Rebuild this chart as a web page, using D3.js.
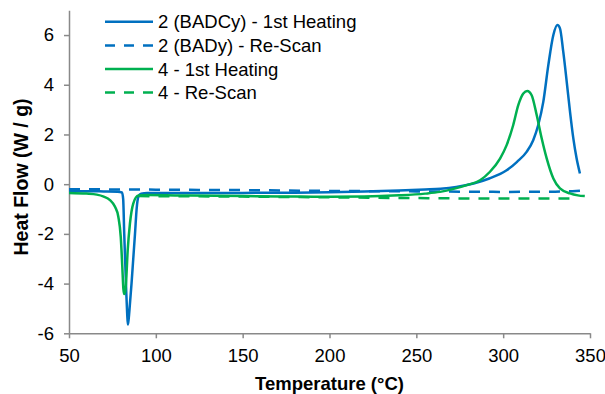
<!DOCTYPE html>
<html>
	<head>
		<meta charset="utf-8">
		<title>Heat Flow DSC</title>
		<script src="https://d3js.org/d3.v7.min.js"></script>
		<style>
			body { margin: 0; background: #fff; }
			text { font-family: "Liberation Sans", Arial, sans-serif; }
		</style>
	</head>
	<body>
		<div id="chart"></div>
		<script>
		// values: [temperature, heat flow]
		var blueHeating = [[50,-0.28],[60,-0.28],[70,-0.29],[78,-0.30],[80.5,-0.33],[81.2,-0.6],[81.8,-2.0],[82.4,-3.2],[83,-4.4],[83.5,-5.2],[83.9,-5.65],[84.4,-5.4],[85,-4.9],[86,-4.0],[87,-3.0],[88,-2.0],[89,-0.95],[90,-0.5],[91.5,-0.38],[95,-0.36],[120,-0.36],[150,-0.35],[180,-0.34],[200,-0.32],[220,-0.29],[240,-0.25],[255,-0.21],[264,-0.18],[273,-0.11],[283,0.03],[292,0.23],[302,0.56],[308,0.9],[313.5,1.3],[317.3,1.77],[320.2,2.38],[323.1,3.31],[326,4.79],[328.9,6.0],[331.2,6.4],[332.7,6.27],[334.6,5.33],[336.6,4.12],[338.5,2.91],[340.4,1.84],[342.3,1.03],[344.2,0.43]];
		var blueRescan = [[50,-0.2],[100,-0.22],[150,-0.24],[200,-0.27],[250,-0.29],[300,-0.31],[330,-0.3],[340,-0.28],[347,-0.25]];
		var greenHeating = [[50,-0.35],[60,-0.38],[66,-0.42],[70,-0.5],[73.6,-0.64],[76.5,-0.91],[78.4,-1.31],[79.8,-2.12],[80.7,-3.33],[81.3,-4.2],[81.8,-4.42],[82.4,-4.3],[82.8,-4.0],[83.8,-2.66],[85.1,-1.58],[87,-0.78],[89.9,-0.46],[95,-0.44],[120,-0.46],[150,-0.48],[180,-0.5],[200,-0.51],[220,-0.5],[240,-0.45],[255,-0.38],[263.6,-0.31],[272,-0.18],[279,-0.04],[286.7,0.16],[292.4,0.5],[298.2,1.03],[302,1.57],[305.8,2.38],[308.7,3.18],[311.6,3.65],[313.9,3.75],[316.4,3.58],[319.3,2.78],[322.2,1.84],[325.1,1.03],[328.9,0.23],[332.7,-0.17],[338.5,-0.37],[343,-0.45],[347,-0.48]];
		var greenRescan = [[90,-0.48],[150,-0.5],[200,-0.53],[250,-0.56],[300,-0.58],[341,-0.58]];

		var seriesNames = ["2 (BADCy) - 1st Heating", "2 (BADy) - Re-Scan", "4 - 1st Heating", "4 - Re-Scan"];
		var seriesData = [blueHeating, blueRescan, greenHeating, greenRescan];
		var seriesColors = ["#0070C0", "#0070C0", "#00B050", "#00B050"];
		var seriesDashed = [false, true, false, true];

		var xTicks = [50, 100, 150, 200, 250, 300, 350];
		var yTicks = [-6, -4, -2, 0, 2, 4, 6];

		var width = 605, height = 394;
		var axisColor = "#898989";
		var fontSize = "18.5px";

		var xScale = d3.scaleLinear().domain([50, 350]).range([69, 590]);
		var yScale = d3.scaleLinear().domain([-6, 7]).range([333.3, 10.2]);

		var svg = d3.select("#chart")
			.append("svg")
			.attr("width", width)
			.attr("height", height);

		// axes, plain hyphen for negatives like the original
		var plain = function(d){ return String(d); };
		var xAxis = d3.axisBottom(xScale).tickValues(xTicks).tickFormat(plain).tickSize(5).tickSizeOuter(0).tickPadding(11);
		var gx = svg.append("g").attr("transform", "translate(0," + yScale(-6) + ")").call(xAxis);

		var yAxis = d3.axisLeft(yScale).tickValues(yTicks).tickFormat(plain).tickSize(5).tickSizeOuter(0).tickPadding(10);
		var gy = svg.append("g").attr("transform", "translate(" + xScale(50) + ",0)").call(yAxis);

		[gx, gy].forEach(function(g){
			g.selectAll("path, line").attr("stroke", axisColor).attr("stroke-width", 1.5);
			g.selectAll("text").attr("fill", "#000").style("font-size", fontSize)
				.style("font-family", '"Liberation Sans", Arial, sans-serif');
		});

		// series lines
		var line = d3.line()
			.x(function(d){ return xScale(d[0]); })
			.y(function(d){ return yScale(d[1]); })
			.curve(d3.curveMonotoneX);

		seriesData.forEach(function(data, i){
			svg.append("path")
				.attr("d", line(data))
				.attr("fill", "none")
				.attr("stroke", seriesColors[i])
				.attr("stroke-width", 2.5)
				.attr("stroke-linejoin", "round")
				.attr("stroke-dasharray", seriesDashed[i] ? "11,9" : null);
		});

		// legend
		var legend = svg.append("g");
		seriesNames.forEach(function(name, i){
			var y = 21.8 + i * 23.6;
			legend.append("line")
				.attr("x1", 105).attr("x2", 153)
				.attr("y1", y).attr("y2", y)
				.attr("stroke", seriesColors[i])
				.attr("stroke-width", 2.5)
				.attr("stroke-dasharray", seriesDashed[i] ? "10,9" : null);
			legend.append("text")
				.text(name)
				.attr("x", 158)
				.attr("y", y + 6.6)
				.style("font-size", fontSize)
				.attr("fill", "#000");
		});

		// axis titles
		svg.append("text")
			.text("Temperature (°C)")
			.attr("x", 329.5)
			.attr("y", 389.5)
			.attr("text-anchor", "middle")
			.style("font-size", fontSize)
			.style("font-weight", "bold");

		svg.append("text")
			.text("Heat Flow (W / g)")
			.attr("transform", "translate(27.5,177) rotate(-90)")
			.attr("text-anchor", "middle")
			.style("font-size", "19.5px")
			.style("font-weight", "bold");
		</script>
	</body>
</html>
